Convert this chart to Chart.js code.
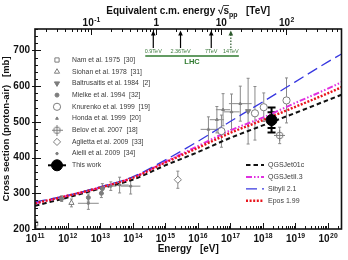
<!DOCTYPE html>
<html>
<head>
<meta charset="utf-8">
<script src="https://cdn.jsdelivr.net/npm/chart.js@4.4.0/dist/chart.umd.min.js"></script>
<style>
  html, body { margin: 0; padding: 0; background: #fff; }
</style>
</head>
<body>
<canvas id="xsec" width="348" height="260"></canvas>
<script>
// energies are log10(E / eV), cross sections in mb

// model curves
const modelLogE = [11, 12, 13, 14, 15, 16, 17, 18, 19, 20, 20.42];
const qgsjet01c = [265, 288, 313, 338, 378, 415, 455, 490, 525, 561, 576];
const qgsjetII  = [272, 293, 316, 344, 388, 432, 476, 512, 553, 593, 611];
const sibyll    = [276, 294, 318, 346, 393, 445, 501, 556, 612, 668, 690];
const epos      = [272, 293, 316, 343, 386, 427, 469, 505, 542, 580, 597];

// measurements
const namE = [11.02], namS = [215], namErr = [10];
const siohanE = [12.12], siohanS = [273], siohanErr = [11];
const baltE = [17.55], baltS = [530], baltErr = [92];
const mielkeE = [11.82, 12.64, 13.04, 13.07], mielkeS = [285, 288, 300, 313], mielkeErr = [8, 10, 12, 14];
const knurE = [16.73, 17.76, 18.03, 18.73], knurS = [474, 524, 541, 560], knurErr = [45, 75, 40, 63];
const hondaE = [16.33, 16.59, 16.78, 17.04, 17.31], hondaS = [479, 506, 534, 528, 551];
const hondaErr = [35, 37, 45, 50, 49], hondaXErr = [0.24, 0.22, 0.22, 0.25, 0.35];
const belovE = [18.52], belovS = [462], belovErr = [23];
const aglE = [15.39], aglS = [338], aglErr = [24];
const aielliE = [12.64, 13.33, 13.6, 13.94], aielliS = [272, 320, 323, 320];
const aielliErr = [17, 12, 22, 22], aielliXErr = [0.32, 0.17, 0.28, 0.3];
const thisE = [18.27], thisS = [505], thisStat = [22], thisSys = [35];

// axes
const xTicks = [11, 12, 13, 14, 15, 16, 17, 18, 19, 20];
const topTicks = [-1, 0, 1, 2];          // log10(sqrt(s) / TeV)
const lhcTeV = [0.9, 2.36, 7, 14];
const lhcLabels = ['0.9TeV', '2.36TeV', '7TeV', '14TeV'];

const FONT = "'Liberation Sans', Arial, sans-serif";
const GRAY = '#7d7d7d';
const xMin = 11, xMax = 20.42;
// sqrt(s_pp) for a proton of energy E hitting a nucleon at rest
const toSqrtS = e => 0.5 * (e + Math.log10(2 * 0.938e9)) - 12;

const belovIcon = document.createElement('canvas');
belovIcon.width = belovIcon.height = 11;
(function () {
  const c = belovIcon.getContext('2d');
  c.strokeStyle = GRAY; c.lineWidth = 1; c.fillStyle = '#fff';
  c.beginPath(); c.arc(5.5, 5.5, 3.3, 0, 2 * Math.PI); c.fill(); c.stroke();
  c.beginPath(); c.moveTo(0, 5.5); c.lineTo(11, 5.5); c.moveTo(5.5, 0); c.lineTo(5.5, 11); c.stroke();
})();

function pts(xs, ys) { return xs.map((x, i) => ({ x: x, y: ys[i] })); }

function marker(label, xs, ys, style, extra) {
  return Object.assign({
    label: label, data: pts(xs, ys), showLine: false,
    pointStyle: style, pointRadius: 3, pointRotation: 0,
    borderColor: GRAY, backgroundColor: '#fff', borderWidth: 1, legend: 'markers'
  }, extra);
}

function model(label, ys, color, dash, width) {
  return {
    label: label, data: pts(modelLogE, ys), showLine: true, pointRadius: 0,
    borderColor: color, backgroundColor: color, borderDash: dash, borderWidth: width,
    cubicInterpolationMode: 'monotone', fill: false, legend: 'models'
  };
}

// first dataset is drawn on top
const datasets = [
  marker('This work', thisE, thisS, 'circle', { pointRadius: 5.5, borderColor: '#000', backgroundColor: '#000', yerr: thisStat, ysys: thisSys }),
  marker('Belov et al. 2007  [18]', belovE, belovS, belovIcon, { yerr: belovErr }),
  marker('Aglietta et al. 2009  [33]', aglE, aglS, 'rectRot', { pointRadius: 3.6, yerr: aglErr }),
  marker('Knurenko et al. 1999  [19]', knurE, knurS, 'circle', { pointRadius: 3.6, yerr: knurErr }),
  marker('Honda et al. 1999  [20]', hondaE, hondaS, 'triangle', { pointRadius: 1.6, backgroundColor: GRAY, yerr: hondaErr, xerr: hondaXErr }),
  marker('Baltrusaitis et al. 1984  [2]', baltE, baltS, 'triangle', { pointRotation: 180, backgroundColor: GRAY, yerr: baltErr }),
  marker('Mielke et al. 1994  [32]', mielkeE, mielkeS, 'circle', { pointRadius: 2, backgroundColor: GRAY, yerr: mielkeErr }),
  marker('Aielli et al. 2009  [34]', aielliE, aielliS, 'circle', { pointRadius: 1.2, backgroundColor: GRAY, yerr: aielliErr, xerr: aielliXErr }),
  marker('Siohan et al. 1978  [31]', siohanE, siohanS, 'triangle', { pointRadius: 3, yerr: siohanErr }),
  marker('Nam et al. 1975  [30]', namE, namS, 'rect', { pointRadius: 3, yerr: namErr }),
  model('Epos 1.99', epos, '#e8141c', [2, 1.6], 2.4),
  model('Sibyll 2.1', sibyll, '#3838e0', [11, 5], 1.3),
  model('QGSJetII.3', qgsjetII, '#e030e0', [6, 2, 1.5, 2, 1.5, 2], 2),
  model('QGSJet01c', qgsjet01c, '#111', [4.5, 3], 2)
];

const markerOrder = ['Nam', 'Siohan', 'Baltrusaitis', 'Mielke', 'Knurenko', 'Honda', 'Belov', 'Aglietta', 'Aielli', 'This work'];
const modelOrder = ['QGSJet01c', 'QGSJetII.3', 'Sibyll 2.1', 'Epos 1.99'];

function drawMarker(ctx, ds, x, y) {
  ctx.save();
  ctx.fillStyle = ds.backgroundColor;
  ctx.strokeStyle = ds.borderColor;
  ctx.lineWidth = ds.borderWidth;
  const opts = { pointStyle: ds.pointStyle, rotation: ds.pointRotation || 0, radius: ds.pointRadius, borderWidth: ds.borderWidth };
  if (Chart.helpers && Chart.helpers.drawPoint) {
    Chart.helpers.drawPoint(ctx, opts, x, y);
  } else {
    ctx.beginPath(); ctx.arc(x, y, ds.pointRadius, 0, 2 * Math.PI); ctx.fill(); ctx.stroke();
  }
  ctx.restore();
}

function drawPow(ctx, x, yBase, exp, size) {
  ctx.font = 'bold ' + size + 'px ' + FONT;
  const base = '10';
  if (exp === 0) { ctx.textAlign = 'center'; ctx.fillText('1', x, yBase); return; }
  if (exp === 1) { ctx.textAlign = 'center'; ctx.fillText('10', x, yBase); return; }
  const bw = ctx.measureText(base).width;
  ctx.font = 'bold ' + (size * 0.68) + 'px ' + FONT;
  const sup = String(exp);
  const sw = ctx.measureText(sup).width;
  const x0 = x - (bw + sw) / 2;
  ctx.textAlign = 'left';
  ctx.fillText(sup, x0 + bw + 0.5, yBase - size * 0.45);
  ctx.font = 'bold ' + size + 'px ' + FONT;
  ctx.fillText(base, x0, yBase);
}

const decor = {
  id: 'decor',
  beforeDatasetsDraw(chart) {
    const ctx = chart.ctx, xs = chart.scales.x, ys = chart.scales.y;
    chart.data.datasets.forEach(ds => {
      if (!ds.yerr) return;
      const dark = ds.label === 'This work';
      ctx.save();
      ctx.strokeStyle = dark ? '#000' : '#8a8a8a';
      ctx.lineWidth = dark ? 2 : 1;
      ds.data.forEach((p, i) => {
        const px = xs.getPixelForValue(p.x);
        const cap = dark ? 4 : 1.5;
        const errs = [ds.yerr[i]].concat(ds.ysys ? [ds.ysys[i]] : []);
        const big = Math.max.apply(null, errs);
        const top = ys.getPixelForValue(p.y + big), bot = ys.getPixelForValue(p.y - big);
        ctx.beginPath(); ctx.moveTo(px, top); ctx.lineTo(px, bot); ctx.stroke();
        errs.forEach(e => {
          const t = ys.getPixelForValue(p.y + e), b = ys.getPixelForValue(p.y - e);
          ctx.beginPath();
          ctx.moveTo(px - cap, t); ctx.lineTo(px + cap, t);
          ctx.moveTo(px - cap, b); ctx.lineTo(px + cap, b);
          ctx.stroke();
        });
        if (ds.xerr) {
          const py = ys.getPixelForValue(p.y);
          ctx.beginPath();
          ctx.moveTo(xs.getPixelForValue(p.x - ds.xerr[i]), py);
          ctx.lineTo(xs.getPixelForValue(p.x + ds.xerr[i]), py);
          ctx.stroke();
        }
      });
      ctx.restore();
    });
  },
  afterDraw(chart) {
    const ctx = chart.ctx, a = chart.chartArea;
    const xs = chart.scales.x, x2 = chart.scales.x2, ys = chart.scales.y;
    ctx.save();
    ctx.strokeStyle = '#111';
    ctx.fillStyle = '#111';
    ctx.lineWidth = 1;

    // ticks, pointing into the frame
    ctx.beginPath();
    for (let n = 11; n <= 20; n++) {
      for (let k = 1; k <= 9; k++) {
        const v = n + Math.log10(k);
        if (v > xMax) continue;
        const px = Math.round(xs.getPixelForValue(v)) + 0.5;
        ctx.moveTo(px, a.bottom); ctx.lineTo(px, a.bottom - (k === 1 ? 6 : 3));
      }
    }
    for (let n = -2; n <= 2; n++) {
      for (let k = 1; k <= 9; k++) {
        const v = n + Math.log10(k);
        if (v < x2.min || v > x2.max) continue;
        const px = Math.round(x2.getPixelForValue(v)) + 0.5;
        ctx.moveTo(px, a.top); ctx.lineTo(px, a.top + (k === 1 ? 6 : 3));
      }
    }
    for (let v = 200; v <= 760; v += 20) {
      const py = Math.round(ys.getPixelForValue(v)) + 0.5;
      const major = v % 100 === 0;
      ctx.moveTo(a.left - (major ? 3 : 0), py); ctx.lineTo(a.left + (major ? 6 : 3), py);
    }
    ctx.stroke();

    // frame
    ctx.lineWidth = 1.6;
    ctx.strokeRect(a.left, a.top, a.right - a.left, a.bottom - a.top);

    // tick labels
    ctx.textBaseline = 'alphabetic';
    xTicks.forEach(n => drawPow(ctx, xs.getPixelForValue(n), a.bottom + 13, n, 10));
    topTicks.forEach(n => drawPow(ctx, x2.getPixelForValue(n), a.top - 3, n, 10));

    // top title
    const cx = (a.left + a.right) / 2;
    const t1 = 'Equivalent c.m. energy ', t2 = '\u221As', t3 = 'pp', t4 = '   [TeV]';
    ctx.font = 'bold 10px ' + FONT;
    const w1 = ctx.measureText(t1).width, w2 = ctx.measureText(t2).width, w4 = ctx.measureText(t4).width;
    ctx.font = 'bold 7px ' + FONT;
    const w3 = ctx.measureText(t3).width;
    let tx = cx - (w1 + w2 + w3 + w4) / 2;
    const ty = 14;
    ctx.textAlign = 'left';
    ctx.font = 'bold 10px ' + FONT;
    ctx.fillText(t1 + t2, tx, ty);
    ctx.lineWidth = 0.8;
    const sw = ctx.measureText('s').width;
    ctx.beginPath(); ctx.moveTo(tx + w1 + w2 - sw - 0.5, ty - 8.5); ctx.lineTo(tx + w1 + w2, ty - 8.5); ctx.stroke();
    tx += w1 + w2;
    ctx.font = 'bold 7px ' + FONT;
    ctx.fillText(t3, tx, ty + 2.5);
    tx += w3;
    ctx.font = 'bold 10px ' + FONT;
    ctx.fillText(t4, tx, ty);

    // LHC energies
    const lx = lhcTeV.map(e => x2.getPixelForValue(Math.log10(e)));
    lx.forEach((px, i) => {
      const last = i === lhcTeV.length - 1;
      ctx.strokeStyle = last ? '#2d5a2d' : '#000';
      ctx.fillStyle = ctx.strokeStyle;
      ctx.lineWidth = 1.2;
      ctx.setLineDash(last ? [1.5, 1.5] : []);
      ctx.beginPath(); ctx.moveTo(px, a.top + 19); ctx.lineTo(px, a.top + 5); ctx.stroke();
      ctx.setLineDash([]);
      ctx.beginPath(); ctx.moveTo(px, a.top + 1.5); ctx.lineTo(px - 2.3, a.top + 6.5); ctx.lineTo(px + 2.3, a.top + 6.5); ctx.closePath(); ctx.fill();
      ctx.fillStyle = '#3c7a3c';
      ctx.font = '5.5px ' + FONT;
      ctx.textAlign = 'center'; ctx.textBaseline = 'middle';
      ctx.fillText(lhcLabels[i], px, a.top + 22.5);
    });
    ctx.strokeStyle = '#2f7a2f';
    ctx.lineWidth = 1.3;
    ctx.beginPath(); ctx.moveTo(lx[0] - 8, a.top + 27); ctx.lineTo(lx[lx.length - 1] + 8, a.top + 27); ctx.stroke();
    ctx.fillStyle = '#2f7a2f';
    ctx.font = 'bold 7.5px ' + FONT;
    ctx.fillText('LHC', (lx[0] + lx[lx.length - 1]) / 2, a.top + 32.5);

    // marker legend
    const dsets = chart.data.datasets;
    ctx.textAlign = 'left'; ctx.textBaseline = 'middle';
    markerOrder.forEach((key, i) => {
      const ds = dsets.find(d => d.label.indexOf(key) === 0);
      const y = 60 + i * 11.7;
      if (ds.label === 'This work') {
        ctx.strokeStyle = '#000'; ctx.lineWidth = 2;
        ctx.beginPath(); ctx.moveTo(48, y); ctx.lineTo(66, y); ctx.stroke();
      }
      drawMarker(ctx, ds, 57, y);
      ctx.fillStyle = '#3a3a3a';
      ctx.font = '6.8px ' + FONT;
      ctx.fillText(ds.label, 72, y);
    });

    // model legend
    modelOrder.forEach((key, i) => {
      const ds = dsets.find(d => d.label === key);
      const y = 165 + i * 11.9;
      ctx.strokeStyle = ds.borderColor; ctx.lineWidth = ds.borderWidth;
      ctx.setLineDash(ds.borderDash);
      ctx.beginPath(); ctx.moveTo(246, y); ctx.lineTo(264, y); ctx.stroke();
      ctx.setLineDash([]);
      ctx.fillStyle = '#3a3a3a';
      ctx.font = '7px ' + FONT;
      ctx.fillText(ds.label, 268, y);
    });
    ctx.restore();
  }
};

new Chart(document.getElementById('xsec').getContext('2d'), {
  type: 'scatter',
  data: { datasets: datasets },
  options: {
    responsive: false,
    animation: false,
    devicePixelRatio: 1,
    layout: { padding: { left: 0, right: 2, top: 0, bottom: 0 } },
    plugins: { legend: { display: false }, tooltip: { enabled: false } },
    scales: {
      x: {
        type: 'linear', position: 'bottom', min: xMin, max: xMax,
        grid: { display: false, drawTicks: false }, border: { display: false },
        ticks: { display: false },
        title: { display: true, text: 'Energy   [eV]', color: '#111', font: { family: FONT, size: 10, weight: 'bold' }, padding: { top: 0, bottom: 5 } },
        afterFit(s) { s.height = 31; }
      },
      x2: {
        type: 'linear', position: 'top', min: toSqrtS(xMin), max: toSqrtS(xMax),
        grid: { display: false, drawTicks: false }, border: { display: false },
        ticks: { display: false },
        afterFit(s) { s.height = 29; }
      },
      y: {
        type: 'linear', min: 200, max: 760,
        grid: { display: false, drawTicks: false }, border: { display: false },
        ticks: {
          stepSize: 100, includeBounds: false, padding: 5, color: '#111',
          font: { family: FONT, size: 10, weight: 'bold' },
          callback: v => (v % 100 === 0 ? v : '')
        },
        title: { display: true, text: 'Cross section (proton-air)   [mb]', color: '#111', font: { family: FONT, size: 9.5, weight: 'bold' }, padding: { top: 1, bottom: 0 } },
        afterFit(s) { s.width = 35; }
      }
    }
  },
  plugins: [decor]
});
</script>
</body>
</html>
